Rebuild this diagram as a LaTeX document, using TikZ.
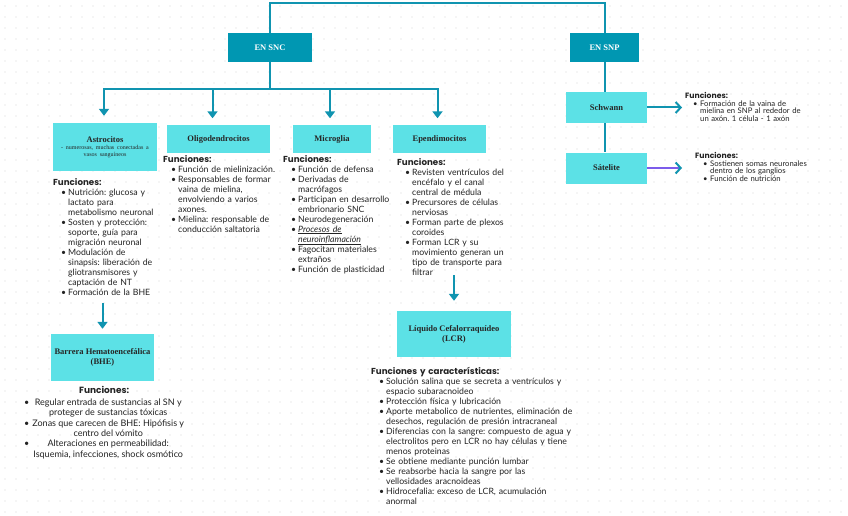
\documentclass[tikz,border=0pt]{standalone}
\usepackage{fontspec}
\setmainfont{Lato}
\newfontfamily\headfont{Poppins}
\newfontfamily\boxfont{Liberation Serif}
\usetikzlibrary{arrows.meta, positioning}
\definecolor{sncteal}{RGB}{0, 151, 178}
\definecolor{cellcyan}{RGB}{92, 225, 230}
\definecolor{linkteal}{RGB}{16, 148, 176}
\definecolor{satpurple}{RGB}{124, 92, 235}
\definecolor{bodygray}{RGB}{35, 35, 35}
\definecolor{dotgray}{RGB}{212, 212, 212}
\frenchspacing

\newlength{\bulin}\setlength{\bulin}{8pt}
\newlength{\txtin}\setlength{\txtin}{15pt}
\newcommand{\fnhead}[1]{{\headfont\bfseries #1}}
\newcommand{\itm}{\par\noindent\hangindent=\txtin\hangafter=1\hspace*{\bulin}\makebox[\dimexpr\txtin-\bulin\relax][l]{\textbullet}\ignorespaces}
\newcommand{\nl}{\newline}

\begin{document}
\begin{tikzpicture}[
    x=1pt, y=-1pt,
    groupbox/.style={rectangle, fill=sncteal, text=white, inner sep=0pt, minimum height=29pt, font=\boxfont\bfseries\fontsize{8.5}{9}\selectfont},
    cellbox/.style={rectangle, fill=cellcyan, text=black!85, inner sep=0pt, align=center, font=\boxfont\bfseries\fontsize{8.5}{10}\selectfont},
    notes/.style={anchor=north west, inner sep=0pt, align=left, text=bodygray, font=\fontsize{8.7}{10}\selectfont},
    smallnotes/.style={notes, font=\fontsize{7.7}{7.8}\selectfont},
    link/.style={draw=linkteal, line width=2pt},
    down/.style={link, -{Triangle[width=10pt,length=7pt]}},
    side/.style={link, -{Straight Barb[width=11pt,length=5pt]}}
]
    % page and dotted paper
    \fill[white] (0,0) rectangle (848,516);
    \useasboundingbox (0,0) rectangle (848,516);
    \foreach \yy in {6,17,...,512}
        \draw[dotgray, line width=1.2pt, line cap=round, dash pattern=on 0pt off 11pt] (5,\yy) -- (848,\yy);

    % main groups
    \node[groupbox, minimum width=84pt] (snc) at (270,47.5) {EN SNC};
    \node[groupbox, minimum width=69pt] (snp) at (604.5,47.5) {EN SNP};

    % cells of the SNC
    \node[cellbox, minimum width=104pt, minimum height=48pt, text width=102pt] (astro) at (105,147)
        {{\fontsize{8.5}{9}\selectfont Astrocitos\par}{\mdseries\fontsize{6}{7}\selectfont - numerosas, muchas conectadas a\\ vasos sanguíneos\par}};
    \node[cellbox, minimum width=103pt, minimum height=27pt] (oligo) at (218.5,139) {Oligodendrocitos};
    \node[cellbox, minimum width=78pt, minimum height=27pt] (micro) at (332,139) {Microglia};
    \node[cellbox, minimum width=93pt, minimum height=27pt] (epend) at (439.5,139) {Ependimocitos};
    \node[cellbox, minimum width=103pt, minimum height=47pt] (bhe) at (102.5,357.5) {Barrera Hematoencefálica\\(BHE)};
    \node[cellbox, minimum width=114pt, minimum height=46pt] (lcr) at (454,334) {Líquido Cefalorraquídeo\\(LCR)};

    % cells of the SNP
    \node[cellbox, minimum width=81pt, minimum height=31pt] (schwann) at (606.5,107.5) {Schwann};
    \node[cellbox, minimum width=81pt, minimum height=31pt] (satel) at (606.5,168) {Sátelite};

    % functions
    \node[notes, text width=110pt] (astrofn) at (53,178) {\fnhead{Funciones:}
        \itm Nutrición: glucosa y\nl lactato para\nl metabolismo neuronal
        \itm Sosten y protección:\nl soporte, guía para\nl migración neuronal
        \itm Modulación de\nl sinapsis: liberación de\nl gliotransmisores y\nl captación de NT
        \itm Formación de la BHE\par};
    \node[notes, text width=120pt] (oligofn) at (163,155) {\fnhead{Funciones:}
        \itm Función de mielinización.
        \itm Responsables de formar\nl vaina de mielina,\nl envolviendo a varios\nl axones.
        \itm Mielina: responsable de\nl conducción saltatoria\par};
    \node[notes, text width=115pt] (microfn) at (283,155) {\fnhead{Funciones:}
        \itm Función de defensa
        \itm Derivadas de\nl macrófagos
        \itm Participan en desarrollo\nl embrionario SNC
        \itm Neurodegeneración
        \itm \underline{\textit{Procesos de}}\nl \underline{\textit{neuroinflamación}}
        \itm Fagocitan materiales\nl extraños
        \itm Función de plasticidad\par};
    \node[notes, text width=120pt] (ependfn) at (397,158) {\fnhead{Funciones:}
        \itm Revisten ventrículos del\nl encéfalo y el canal\nl central de médula
        \itm Precursores de células\nl nerviosas
        \itm Forman parte de plexos\nl coroides
        \itm Forman LCR y su\nl movimiento generan un\nl tipo de transporte para\nl filtrar\par};
    \node[anchor=north west, inner sep=0pt, text=bodygray, font=\fontsize{9}{10.4}\selectfont] (bhefn) at (24,386) {%
        \begin{tabular}{@{}l@{\hspace{3pt}}c@{}}
        \multicolumn{2}{c}{\fnhead{Funciones:}}\\[1.5pt]
        \textbullet & Regular entrada de sustancias al SN y\\
                    & proteger de sustancias tóxicas\\
        \textbullet & Zonas que carecen de BHE: Hipófisis y\\
                    & centro del vómito\\
        \textbullet & Alteraciones en permeabilidad:\\
                    & Isquemia, infecciones, shock osmótico
        \end{tabular}};
    \node[notes, text width=230pt] (lcrfn) at (371,367) {\fnhead{Funciones y características:}
        \itm Solución salina que se secreta a ventrículos y\nl espacio subaracnoideo
        \itm Protección física y lubricación
        \itm Aporte metabolico de nutrientes, eliminación de\nl desechos, regulación de presión intracraneal
        \itm Diferencias con la sangre: compuesto de agua y\nl electrolitos pero en LCR no hay células y tiene\nl menos proteinas
        \itm Se obtiene mediante punción lumbar
        \itm Se reabsorbe hacia la sangre por las\nl vellosidades aracnoideas
        \itm Hidrocefalia: exceso de LCR, acumulación\nl anormal\par};
    \node[smallnotes, text width=140pt] (schwannfn) at (685,92) {\fnhead{Funciones:}
        \itm Formación de la vaina de\nl mielina en SNP al rededor de\nl un axón. 1 célula - 1 axón\par};
    \node[smallnotes, text width=130pt] (satelfn) at (695,152) {\fnhead{Funciones:}
        \itm Sostienen somas neuronales\nl dentro de los ganglios
        \itm Función de nutrición\par};

    % connectors
    \coordinate (topline) at (437,3);
    \coordinate (sncbar) at (270,89);
    \draw[link] (snc.north) |- (topline) -| (snp.north);
    \foreach \c/\dx in {astro/-1, oligo/-6, micro/-2, epend/-2}
        \draw[down, shorten >=7pt] (snc.south) |- (sncbar) -| ([xshift=\dx pt]\c.north);
    \draw[down, shorten <=8pt, shorten >=5pt] (astrofn.south -| bhe.north) -- (bhe.north);
    \draw[down, shorten >=10pt] (ependfn.south -| lcr.north) -- (lcr.north);
    \draw[link] (snp.south) -- (snp.south |- schwann.north);
    \draw[link] (schwann.south -| snp.south) -- (satel.north -| snp.south);
    \draw[side, shorten >=3pt] (schwann.east) -- (schwann.east -| schwannfn.west);
    \draw[link, draw=satpurple, -{Straight Barb[width=11pt,length=5pt,color=linkteal]}, shorten >=13pt] (satel.east) -- (satel.east -| satelfn.west);
\end{tikzpicture}
\end{document}
